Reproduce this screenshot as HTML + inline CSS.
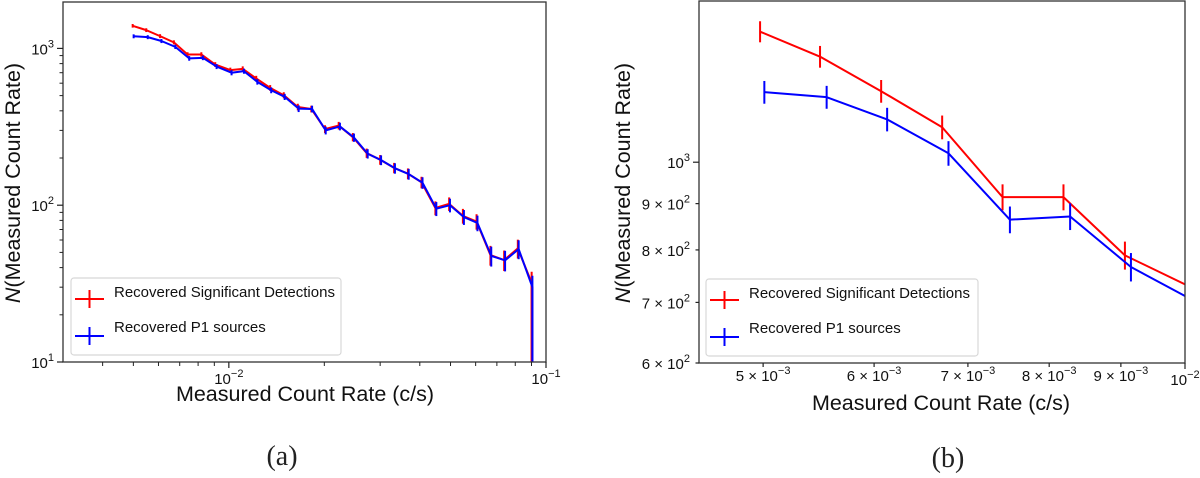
<!DOCTYPE html>
<html><head><meta charset="utf-8">
<style>
html,body{margin:0;padding:0;background:#fff;width:1200px;height:478px;overflow:hidden;}
svg{display:block;font-family:"Liberation Sans","DejaVu Sans",sans-serif;}
.tick{font-size:15px;fill:#111;}
.lab{font-size:21.5px;fill:#111;}
.leg{font-size:15px;fill:#111;}
.cap{font-family:"Liberation Serif",serif;font-size:28px;fill:#222;}
</style></head>
<body>
<svg id="chart" width="1200" height="478" viewBox="0 0 1200 478" xmlns="http://www.w3.org/2000/svg">
<defs>
<clipPath id="clipA"><rect x="63" y="2" width="483" height="360"/></clipPath>
<clipPath id="clipB"><rect x="699" y="1" width="486" height="362"/></clipPath>
</defs>
<g id="panelA"></g>
<g id="panelB"></g>
</svg>
<script>
// Data
const redX = [0.004975,0.00549,0.00607,0.00671,0.00741,0.00819,0.00906,0.01011,0.01106,0.0122,0.0135,0.0149,0.0165,0.0182,0.0201,0.0222,0.0246,0.0272,0.0300,0.0332,0.0367,0.0405,0.0448,0.0495,0.0547,0.0604,0.0668,0.0738,0.0815,0.0901];
const blueX = [0.00501,0.00555,0.00613,0.00678,0.0075,0.00828,0.00915,0.0102,0.01116,0.0123,0.0136,0.0150,0.0166,0.0183,0.0202,0.0224,0.0248,0.0274,0.0302,0.0334,0.0369,0.0408,0.0451,0.0498,0.0551,0.0608,0.0672,0.0743,0.0820,0.0906];
const redY = [1394,1308,1198,1093,915,915,789,727,741,643,560,503,423,411,306,322,272,215,195,173,159,140,96,102,85.5,78.7,48.1,44.7,53,32];
const blueY = [1195,1180,1115,1023,864,871,766,700,716,612,541,491,413,411,300,318,270,213,194,172,158,139,95,100,84,77,47.5,44.5,52.5,30];
const dropY = 5; // final drop below axis
const ticksAX = [0.01,0.1];
const ticksAXLabel = [["10","−2"],["10","−1"]];
const minorAX = [0.004,0.005,0.006,0.007,0.008,0.009,0.02,0.03,0.04,0.05,0.06,0.07,0.08,0.09];
const ticksAY = [10,100,1000];
const ticksAYLabel = [["10","1"],["10","2"],["10","3"]];
const minorAY = [20,30,40,50,60,70,80,90,200,300,400,500,600,700,800,900,2000];
const ticksBX = [0.005,0.006,0.007,0.008,0.009,0.01];
const ticksBXLabel = [["5 × 10","−3"],["6 × 10","−3"],["7 × 10","−3"],["8 × 10","−3"],["9 × 10","−3"],["10","−2"]];
const ticksBY = [600,700,800,900,1000];
const ticksBYLabel = [["6 × 10","2"],["7 × 10","2"],["8 × 10","2"],["9 × 10","2"],["10","3"]];
const seriesNames = ["Recovered Significant Detections","Recovered P1 sources"];

const NS="http://www.w3.org/2000/svg";
function mk(tag,attrs,parent){const e=document.createElementNS(NS,tag);for(const k in attrs)e.setAttribute(k,attrs[k]);if(parent)parent.appendChild(e);return e;}
function logScale(d0,d1,r0,r1){const a=Math.log10(d0),b=Math.log10(d1);return v=>r0+(Math.log10(v)-a)/(b-a)*(r1-r0);}
function supText(parent,x,y,parts,anchor,cls){
  const t=mk('text',{x:x,y:y,'text-anchor':anchor,class:cls},parent);
  t.appendChild(document.createTextNode(parts[0]));
  const s=mk('tspan',{dy:-7,'font-size':'11px'},t);s.textContent=parts[1];
  return t;
}

function panel(g,cfg){
  const X=logScale(cfg.xd[0],cfg.xd[1],cfg.L,cfg.R);
  const Y=logScale(cfg.yd[0],cfg.yd[1],cfg.B,cfg.T);
  const yMin=cfg.yd[0];
  const sg=mk('g',{'clip-path':'url(#'+cfg.clip+')'},g);
  
  
  const sets=[[redX,redY,'#ff0000','red-series'],[blueX,blueY,'#0000ff','blue-series']];
  sets.forEach(([xs,ys,col,nm])=>{
    const pts=[];
    let cut=false;
    for(let i=0;i<xs.length;i++){
      const px=X(xs[i]),py=Y(Math.max(ys[i],yMin));
      if(px>cfg.R){
        if(pts.length){const [qx,qy]=pts[pts.length-1];const t=(cfg.R-qx)/(px-qx);pts.push([cfg.R,qy+t*(py-qy)]);}
        cut=true;break;
      }
      pts.push([px,py]);
    }
    if(!cut){const last=xs.length-1;pts.push([X(xs[last]),Y(Math.max(dropY,yMin))]);}
    let d='';
    pts.forEach((p,i)=>{d+=(i?'L':'M')+p[0].toFixed(2)+','+p[1].toFixed(2);});
    const p=mk('path',{d:d,fill:'none',stroke:col,'stroke-width':2,'stroke-linejoin':'round'},sg);
    
    
    xs.forEach((x,i)=>{
      if(x>cfg.xd[1]||x<cfg.xd[0])return;
      const e=Math.sqrt(ys[i]);
      const lo=Math.max((i===xs.length-1)?dropY:ys[i]-e,yMin);
      const hi=Math.min(ys[i]+e,cfg.yd[1]);
      const eb=mk('line',{x1:X(x),x2:X(x),y1:Y(hi),y2:Y(lo),stroke:col,'stroke-width':2},sg);
      
      
    });
  });
  const fr=mk('rect',{x:cfg.L,y:cfg.T,width:cfg.R-cfg.L,height:cfg.B-cfg.T,fill:'none',stroke:'#333','stroke-width':1.3},g);
  
  
  cfg.xt.forEach((v,i)=>{
    const x=X(v);
    mk('line',{x1:x,x2:x,y1:cfg.B,y2:cfg.B+(cfg.xMajor[i]?6:4),stroke:'#222','stroke-width':1.2},g);
    const t=supText(g,x,cfg.B+(cfg.xMajor[i]?22:18),cfg.xl[i],'middle','tick');
    
    
  });
  (cfg.xm||[]).forEach(v=>{const x=X(v);mk('line',{x1:x,x2:x,y1:cfg.B,y2:cfg.B+4,stroke:'#222','stroke-width':1},g);});
  cfg.yt.forEach((v,i)=>{
    const y=Y(v);
    mk('line',{x1:cfg.L-(cfg.yMajor[i]?6:3.5),x2:cfg.L,y1:y,y2:y,stroke:'#222','stroke-width':1.2},g);
    const t=supText(g,cfg.L-9,y+6,cfg.yl[i],'end','tick');
    
    
  });
  (cfg.ym||[]).forEach(v=>{const y=Y(v);if(y<cfg.T)return;mk('line',{x1:cfg.L-3.5,x2:cfg.L,y1:y,y2:y,stroke:'#222','stroke-width':1},g);});
  const lg=mk('g',{},g);
  
  
  mk('rect',{x:cfg.lx,y:cfg.ly,width:cfg.lw,height:77,rx:3,fill:'#fff',stroke:'#d8d8d8','stroke-width':1.2},lg);
  [['#ff0000',21,14],['#0000ff',58,49]].forEach(([c,ly,ty],i)=>{
    const en=mk('g',{},lg);
    
    
    mk('line',{x1:cfg.lx+4,x2:cfg.lx+33,y1:cfg.ly+ly,y2:cfg.ly+ly,stroke:c,'stroke-width':2},en);
    mk('line',{x1:cfg.lx+18.5,x2:cfg.lx+18.5,y1:cfg.ly+ly-9,y2:cfg.ly+ly+9,stroke:c,'stroke-width':2},en);
    const t=mk('text',{x:cfg.lx+43,y:cfg.ly+ty+5,class:'leg'},en);t.textContent=seriesNames[i];
  });
  const yl=mk('text',{x:0,y:0,class:'lab','text-anchor':'middle',transform:'translate('+cfg.ylx+','+cfg.yly+') rotate(-90)'},g);
  
  
  const it=mk('tspan',{'font-style':'italic'},yl);it.textContent='N';
  yl.appendChild(document.createTextNode('(Measured Count Rate)'));
  const xl=mk('text',{x:cfg.xlx,y:cfg.xly,class:'lab','text-anchor':'middle'},g);xl.textContent='Measured Count Rate (c/s)';
  
  
  const cp=mk('text',{x:cfg.cx,y:cfg.cy,class:'cap','text-anchor':'middle'},g);cp.textContent=cfg.cap;
  
  
}

panel(document.getElementById('panelA'),{
  L:63,R:546,T:2,B:362,xd:[0.003,0.1],yd:[10,Math.pow(10,3.296)],clip:'clipA',
  xt:ticksAX,xl:ticksAXLabel,xMajor:[1,1],xm:minorAX,
  yt:ticksAY,yl:ticksAYLabel,yMajor:[1,1,1],ym:minorAY,
  lx:71,ly:278,lw:270,ylx:20,yly:183,xlx:305,xly:401,cx:282,cy:465,cap:'(a)'
});
panel(document.getElementById('panelB'),{
  L:699,R:1185,T:1,B:363,xd:[0.0045,0.01],yd:[600,1507],clip:'clipB',
  xt:ticksBX,xl:ticksBXLabel,xMajor:[0,0,0,0,0,1],
  yt:ticksBY,yl:ticksBYLabel,yMajor:[0,0,0,0,1],
  lx:706,ly:279,lw:272,ylx:630,yly:183,xlx:941,xly:410,cx:948,cy:467,cap:'(b)'
});
</script>
</body></html>
